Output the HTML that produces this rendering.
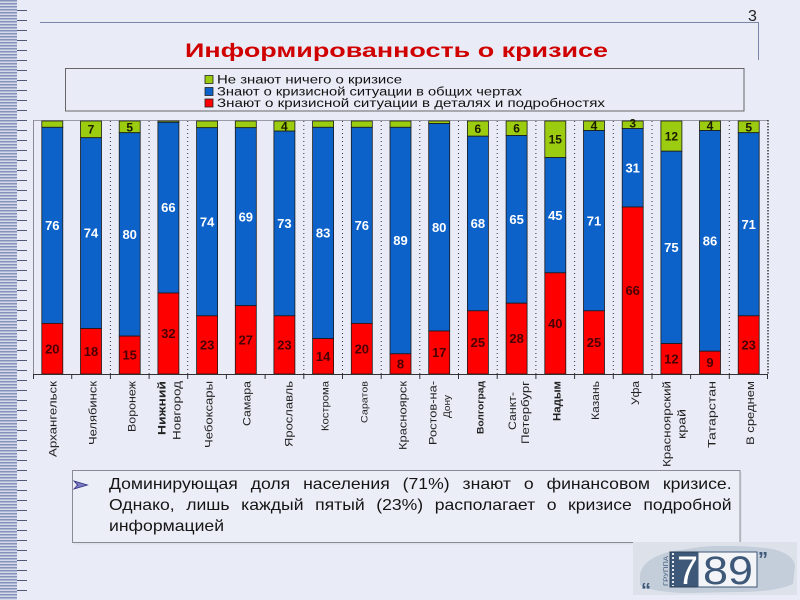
<!DOCTYPE html>
<html>
<head>
<meta charset="utf-8">
<style>
  html,body{margin:0;padding:0;}
  body{width:800px;height:600px;overflow:hidden;background:#e9ecf6;position:relative;font-family:"Liberation Sans","Noto Sans CJK SC",sans-serif;}
  .strip{position:absolute;left:0;top:0;width:17px;height:600px;
    background:repeating-linear-gradient(to bottom,#8593bb 0px,#8593bb 1.5px,#d3d9ea 1.5px,#d3d9ea 3px);}
  svg{position:absolute;left:0;top:0;}
  .ln{position:absolute;left:109px;width:566px;font-size:16px;line-height:20px;color:#151515;white-space:nowrap;transform:scaleX(1.1);transform-origin:0 0;}
  .j{text-align:justify;text-align-last:justify;white-space:normal;}
</style>
</head>
<body>
<div class="strip"></div>
<svg width="800" height="600" viewBox="0 0 800 600" xmlns="http://www.w3.org/2000/svg" font-family="Liberation Sans, sans-serif">
  <!-- left ticks -->
  <g stroke="#4f5a7a" stroke-width="1">
    <line x1="17" y1="10.5" x2="27" y2="10.5"/><line x1="17" y1="20.5" x2="27" y2="20.5"/><line x1="17" y1="30.5" x2="27" y2="30.5"/><line x1="17" y1="40.5" x2="27" y2="40.5"/><line x1="17" y1="50.5" x2="27" y2="50.5"/><line x1="17" y1="60.5" x2="27" y2="60.5"/><line x1="17" y1="70.5" x2="27" y2="70.5"/><line x1="17" y1="80.5" x2="27" y2="80.5"/><line x1="17" y1="90.5" x2="27" y2="90.5"/><line x1="17" y1="100.5" x2="27" y2="100.5"/>
    <line x1="17" y1="110.5" x2="27" y2="110.5"/><line x1="17" y1="120.5" x2="27" y2="120.5"/><line x1="17" y1="130.5" x2="27" y2="130.5"/><line x1="17" y1="140.5" x2="27" y2="140.5"/><line x1="17" y1="150.5" x2="27" y2="150.5"/><line x1="17" y1="160.5" x2="27" y2="160.5"/><line x1="17" y1="170.5" x2="27" y2="170.5"/><line x1="17" y1="180.5" x2="27" y2="180.5"/><line x1="17" y1="190.5" x2="27" y2="190.5"/><line x1="17" y1="200.5" x2="27" y2="200.5"/>
    <line x1="17" y1="210.5" x2="27" y2="210.5"/><line x1="17" y1="220.5" x2="27" y2="220.5"/><line x1="17" y1="230.5" x2="27" y2="230.5"/><line x1="17" y1="240.5" x2="27" y2="240.5"/><line x1="17" y1="250.5" x2="27" y2="250.5"/><line x1="17" y1="260.5" x2="27" y2="260.5"/><line x1="17" y1="270.5" x2="27" y2="270.5"/><line x1="17" y1="280.5" x2="27" y2="280.5"/><line x1="17" y1="290.5" x2="27" y2="290.5"/><line x1="17" y1="300.5" x2="27" y2="300.5"/>
    <line x1="17" y1="310.5" x2="27" y2="310.5"/><line x1="17" y1="320.5" x2="27" y2="320.5"/><line x1="17" y1="330.5" x2="27" y2="330.5"/><line x1="17" y1="340.5" x2="27" y2="340.5"/><line x1="17" y1="350.5" x2="27" y2="350.5"/><line x1="17" y1="360.5" x2="27" y2="360.5"/><line x1="17" y1="370.5" x2="27" y2="370.5"/><line x1="17" y1="380.5" x2="27" y2="380.5"/><line x1="17" y1="390.5" x2="27" y2="390.5"/><line x1="17" y1="400.5" x2="27" y2="400.5"/>
    <line x1="17" y1="410.5" x2="27" y2="410.5"/><line x1="17" y1="420.5" x2="27" y2="420.5"/><line x1="17" y1="430.5" x2="27" y2="430.5"/><line x1="17" y1="440.5" x2="27" y2="440.5"/><line x1="17" y1="450.5" x2="27" y2="450.5"/><line x1="17" y1="460.5" x2="27" y2="460.5"/><line x1="17" y1="470.5" x2="27" y2="470.5"/><line x1="17" y1="480.5" x2="27" y2="480.5"/><line x1="17" y1="490.5" x2="27" y2="490.5"/><line x1="17" y1="500.5" x2="27" y2="500.5"/>
    <line x1="17" y1="510.5" x2="27" y2="510.5"/><line x1="17" y1="520.5" x2="27" y2="520.5"/><line x1="17" y1="530.5" x2="27" y2="530.5"/><line x1="17" y1="540.5" x2="27" y2="540.5"/><line x1="17" y1="550.5" x2="27" y2="550.5"/><line x1="17" y1="560.5" x2="27" y2="560.5"/><line x1="17" y1="570.5" x2="27" y2="570.5"/><line x1="17" y1="580.5" x2="27" y2="580.5"/><line x1="17" y1="590.5" x2="27" y2="590.5"/>
  </g>

  <!-- header line and page number -->
  <line x1="40" y1="22.5" x2="759" y2="22.5" stroke="#7b86a8" stroke-width="1"/>
  <line x1="758.5" y1="22" x2="758.5" y2="60" stroke="#7b86a8" stroke-width="1"/>
  <text x="748" y="21" font-size="16" fill="#222">3</text>

  <!-- title -->
  <text x="185" y="57" font-size="19.5" font-weight="bold" fill="#d00000" textLength="423" lengthAdjust="spacingAndGlyphs">Информированность о кризисе</text>

  <!-- legend -->
  <rect x="65.5" y="68.5" width="678.5" height="42.5" fill="none" stroke="#666" stroke-width="1"/>
  <rect x="205" y="75.5" width="8" height="8" fill="#9ccc10" stroke="#222" stroke-width="0.8"/>
  <rect x="205" y="87.5" width="8" height="8" fill="#0d62c9" stroke="#222" stroke-width="0.8"/>
  <rect x="205" y="99" width="8" height="8" fill="#ff0000" stroke="#222" stroke-width="0.8"/>
  <g font-size="11.5" fill="#111">
    <text x="217" y="83.5" textLength="185" lengthAdjust="spacingAndGlyphs">Не знают ничего о кризисе</text>
    <text x="217" y="95.5" textLength="305" lengthAdjust="spacingAndGlyphs">Знают о кризисной ситуации в общих чертах</text>
    <text x="217" y="107" textLength="388" lengthAdjust="spacingAndGlyphs">Знают о кризисной ситуации в деталях и подробностях</text>
  </g>

  <!-- plot frame -->
  <line x1="33" y1="120.5" x2="768" y2="120.5" stroke="#9a9aa8" stroke-width="1"/>
  <line x1="33.5" y1="120" x2="33.5" y2="374" stroke="#8a8a98" stroke-width="1"/>
  <g stroke="#333" stroke-width="1" stroke-dasharray="1 3">
    <line x1="110.4" y1="121" x2="110.4" y2="374"/>
    <line x1="149.1" y1="121" x2="149.1" y2="374"/>
    <line x1="187.7" y1="121" x2="187.7" y2="374"/>
    <line x1="303.8" y1="121" x2="303.8" y2="374"/>
    <line x1="342.5" y1="121" x2="342.5" y2="374"/>
    <line x1="381.2" y1="121" x2="381.2" y2="374"/>
    <line x1="419.8" y1="121" x2="419.8" y2="374"/>
    <line x1="458.5" y1="121" x2="458.5" y2="374"/>
    <line x1="497.2" y1="121" x2="497.2" y2="374"/>
    <line x1="535.9" y1="121" x2="535.9" y2="374"/>
    <line x1="574.6" y1="121" x2="574.6" y2="374"/>
    <line x1="613.3" y1="121" x2="613.3" y2="374"/>
    <line x1="652.0" y1="121" x2="652.0" y2="374"/>
    <line x1="729.3" y1="121" x2="729.3" y2="374"/>
  </g>
  <line x1="768" y1="120" x2="768" y2="374" stroke="#111" stroke-width="1.2" stroke-dasharray="1.5 1.5"/>

  <!-- bars -->
  <g stroke="#1a1a1a" stroke-width="0.8">
    <rect x="41.8" y="121" width="21" height="6.3" fill="#9ccc10"/>
    <rect x="41.8" y="127.3" width="21" height="196.1" fill="#0d62c9"/>
    <rect x="41.8" y="323.4" width="21" height="50.6" fill="#ff0000"/>
    <rect x="80.5" y="121" width="21" height="16.7" fill="#9ccc10"/>
    <rect x="80.5" y="137.7" width="21" height="190.8" fill="#0d62c9"/>
    <rect x="80.5" y="328.5" width="21" height="45.5" fill="#ff0000"/>
    <rect x="119.2" y="121" width="21" height="11.7" fill="#9ccc10"/>
    <rect x="119.2" y="132.7" width="21" height="203.4" fill="#0d62c9"/>
    <rect x="119.2" y="336.1" width="21" height="37.9" fill="#ff0000"/>
    <rect x="157.9" y="121" width="21" height="1.3" fill="#9ccc10"/>
    <rect x="157.9" y="122.3" width="21" height="170.7" fill="#0d62c9"/>
    <rect x="157.9" y="293" width="21" height="81" fill="#ff0000"/>
    <rect x="196.6" y="121" width="21" height="6.7" fill="#9ccc10"/>
    <rect x="196.6" y="127.7" width="21" height="188.1" fill="#0d62c9"/>
    <rect x="196.6" y="315.8" width="21" height="58.2" fill="#ff0000"/>
    <rect x="235.3" y="121" width="21" height="6.7" fill="#9ccc10"/>
    <rect x="235.3" y="127.7" width="21" height="178" fill="#0d62c9"/>
    <rect x="235.3" y="305.7" width="21" height="68.3" fill="#ff0000"/>
    <rect x="273.9" y="121" width="21" height="10.1" fill="#9ccc10"/>
    <rect x="273.9" y="131.1" width="21" height="184.7" fill="#0d62c9"/>
    <rect x="273.9" y="315.8" width="21" height="58.2" fill="#ff0000"/>
    <rect x="312.6" y="121" width="21" height="6.3" fill="#9ccc10"/>
    <rect x="312.6" y="127.3" width="21" height="211.3" fill="#0d62c9"/>
    <rect x="312.6" y="338.6" width="21" height="35.4" fill="#ff0000"/>
    <rect x="351.3" y="121" width="21" height="6.3" fill="#9ccc10"/>
    <rect x="351.3" y="127.3" width="21" height="196.1" fill="#0d62c9"/>
    <rect x="351.3" y="323.4" width="21" height="50.6" fill="#ff0000"/>
    <rect x="390" y="121" width="21" height="6.3" fill="#9ccc10"/>
    <rect x="390" y="127.3" width="21" height="226.5" fill="#0d62c9"/>
    <rect x="390" y="353.8" width="21" height="20.2" fill="#ff0000"/>
    <rect x="428.7" y="121" width="21" height="2.5" fill="#9ccc10"/>
    <rect x="428.7" y="123.5" width="21" height="207.5" fill="#0d62c9"/>
    <rect x="428.7" y="331" width="21" height="43" fill="#ff0000"/>
    <rect x="467.4" y="121" width="21" height="15.2" fill="#9ccc10"/>
    <rect x="467.4" y="136.2" width="21" height="174.6" fill="#0d62c9"/>
    <rect x="467.4" y="310.8" width="21" height="63.2" fill="#ff0000"/>
    <rect x="506.1" y="121" width="21" height="14.5" fill="#9ccc10"/>
    <rect x="506.1" y="135.5" width="21" height="167.7" fill="#0d62c9"/>
    <rect x="506.1" y="303.2" width="21" height="70.8" fill="#ff0000"/>
    <rect x="544.8" y="121" width="21" height="36.5" fill="#9ccc10"/>
    <rect x="544.8" y="157.5" width="21" height="115.3" fill="#0d62c9"/>
    <rect x="544.8" y="272.8" width="21" height="101.2" fill="#ff0000"/>
    <rect x="583.5" y="121" width="21" height="9.5" fill="#9ccc10"/>
    <rect x="583.5" y="130.5" width="21" height="180.3" fill="#0d62c9"/>
    <rect x="583.5" y="310.8" width="21" height="63.2" fill="#ff0000"/>
    <rect x="622.2" y="121" width="21" height="7.5" fill="#9ccc10"/>
    <rect x="622.2" y="128.5" width="21" height="78.5" fill="#0d62c9"/>
    <rect x="622.2" y="207" width="21" height="167" fill="#ff0000"/>
    <rect x="660.9" y="121" width="21" height="30.2" fill="#9ccc10"/>
    <rect x="660.9" y="151.2" width="21" height="192.4" fill="#0d62c9"/>
    <rect x="660.9" y="343.6" width="21" height="30.4" fill="#ff0000"/>
    <rect x="699.5" y="121" width="21" height="9.5" fill="#9ccc10"/>
    <rect x="699.5" y="130.5" width="21" height="220.7" fill="#0d62c9"/>
    <rect x="699.5" y="351.2" width="21" height="22.8" fill="#ff0000"/>
    <rect x="738.2" y="121" width="21" height="11.7" fill="#9ccc10"/>
    <rect x="738.2" y="132.7" width="21" height="183.1" fill="#0d62c9"/>
    <rect x="738.2" y="315.8" width="21" height="58.2" fill="#ff0000"/>
  </g>

  <!-- bottom axis -->
  <line x1="33" y1="374.5" x2="768" y2="374.5" stroke="#333" stroke-width="1"/>
  <g stroke="#333" stroke-width="1">
    <line x1="33.5" y1="374" x2="33.5" y2="379"/><line x1="71.7" y1="374" x2="71.7" y2="379"/><line x1="110.4" y1="374" x2="110.4" y2="379"/><line x1="149.1" y1="374" x2="149.1" y2="379"/><line x1="187.7" y1="374" x2="187.7" y2="379"/><line x1="226.4" y1="374" x2="226.4" y2="379"/><line x1="265.1" y1="374" x2="265.1" y2="379"/><line x1="303.8" y1="374" x2="303.8" y2="379"/><line x1="342.5" y1="374" x2="342.5" y2="379"/><line x1="381.2" y1="374" x2="381.2" y2="379"/>
    <line x1="419.8" y1="374" x2="419.8" y2="379"/><line x1="458.5" y1="374" x2="458.5" y2="379"/><line x1="497.2" y1="374" x2="497.2" y2="379"/><line x1="535.9" y1="374" x2="535.9" y2="379"/><line x1="574.6" y1="374" x2="574.6" y2="379"/><line x1="613.3" y1="374" x2="613.3" y2="379"/><line x1="652.0" y1="374" x2="652.0" y2="379"/><line x1="690.6" y1="374" x2="690.6" y2="379"/><line x1="729.3" y1="374" x2="729.3" y2="379"/><line x1="767.5" y1="374" x2="767.5" y2="379"/>
  </g>

  <!-- value labels -->
  <g font-size="13" font-weight="bold" text-anchor="middle">
    <g fill="#ffffff">
      <text x="52.3" y="230">76</text>
      <text x="91" y="237.7">74</text>
      <text x="129.7" y="239">80</text>
      <text x="168.4" y="212.2">66</text>
      <text x="207.1" y="226.3">74</text>
      <text x="245.8" y="221.3">69</text>
      <text x="284.4" y="228">73</text>
      <text x="323.1" y="237.6">83</text>
      <text x="361.8" y="230">76</text>
      <text x="400.5" y="245.1">89</text>
      <text x="439.2" y="231.9">80</text>
      <text x="477.9" y="228.1">68</text>
      <text x="516.6" y="224">65</text>
      <text x="555.3" y="219.8">45</text>
      <text x="594" y="225.3">71</text>
      <text x="632.7" y="172.4">31</text>
      <text x="671.4" y="252">75</text>
      <text x="710" y="245.4">86</text>
      <text x="748.7" y="228.9">71</text>
    </g>
    <g fill="#4a0000">
      <text x="52.3" y="353.3">20</text>
      <text x="91" y="355.9">18</text>
      <text x="129.7" y="359.6">15</text>
      <text x="168.4" y="338.1">32</text>
      <text x="207.1" y="349.5">23</text>
      <text x="245.8" y="344.5">27</text>
      <text x="284.4" y="349.5">23</text>
      <text x="323.1" y="360.9">14</text>
      <text x="361.8" y="353.3">20</text>
      <text x="400.5" y="368.5">8</text>
      <text x="439.2" y="357.1">17</text>
      <text x="477.9" y="347">25</text>
      <text x="516.6" y="343.2">28</text>
      <text x="555.3" y="328">40</text>
      <text x="594" y="347">25</text>
      <text x="632.7" y="295.1">66</text>
      <text x="671.4" y="363.4">12</text>
      <text x="710" y="367.2">9</text>
      <text x="748.7" y="349.5">23</text>
    </g>
    <g fill="#1a1a00" font-size="12">
      <text x="91" y="133.6">7</text>
      <text x="129.7" y="131.3">5</text>
      <text x="284.4" y="130.4">4</text>
      <text x="477.9" y="133">6</text>
      <text x="516.6" y="132.6">6</text>
      <text x="555.3" y="143.6">15</text>
      <text x="594" y="130.1">4</text>
      <text x="632.7" y="127.4">3</text>
      <text x="671.4" y="140.4">12</text>
      <text x="710" y="130.1">4</text>
      <text x="748.7" y="131.3">5</text>
    </g>
  </g>

  <!-- category labels -->
  <g font-size="11" fill="#222">
    <text transform="translate(56.3,457) rotate(-90)" textLength="76" lengthAdjust="spacingAndGlyphs">Архангельск</text>
    <text transform="translate(96.7,445) rotate(-90)" textLength="64" lengthAdjust="spacingAndGlyphs">Челябинск</text>
    <text transform="translate(135.7,432) rotate(-90)" textLength="51" lengthAdjust="spacingAndGlyphs">Воронеж</text>
    <text transform="translate(165.7,435) rotate(-90)" textLength="54" lengthAdjust="spacingAndGlyphs" font-weight="bold">Нижний</text>
    <text transform="translate(180.7,440) rotate(-90)" textLength="59" lengthAdjust="spacingAndGlyphs">Новгород</text>
    <text transform="translate(212.3,448) rotate(-90)" textLength="67" lengthAdjust="spacingAndGlyphs">Чебоксары</text>
    <text transform="translate(250.7,426) rotate(-90)" textLength="45" lengthAdjust="spacingAndGlyphs">Самара</text>
    <text transform="translate(292.3,447) rotate(-90)" textLength="66" lengthAdjust="spacingAndGlyphs">Ярославль</text>
    <text transform="translate(328.5,431) rotate(-90)" textLength="50" lengthAdjust="spacingAndGlyphs" font-size="10">Кострома</text>
    <text transform="translate(367.5,423) rotate(-90)" textLength="42" lengthAdjust="spacingAndGlyphs" font-size="9.5">Саратов</text>
    <text transform="translate(406.7,450) rotate(-90)" textLength="69" lengthAdjust="spacingAndGlyphs">Красноярск</text>
    <text transform="translate(436.7,445) rotate(-90)" textLength="64" lengthAdjust="spacingAndGlyphs">Ростов-на-</text>
    <text transform="translate(450,418) rotate(-90)" textLength="23" lengthAdjust="spacingAndGlyphs" font-size="9">Дону</text>
    <text transform="translate(483.5,434) rotate(-90)" textLength="53" lengthAdjust="spacingAndGlyphs" font-size="9.5" font-weight="bold">Волгоград</text>
    <text transform="translate(516,430) rotate(-90)" textLength="38" lengthAdjust="spacingAndGlyphs">Санкт-</text>
    <text transform="translate(529,444) rotate(-90)" textLength="63" lengthAdjust="spacingAndGlyphs">Петербург</text>
    <text transform="translate(560.7,421) rotate(-90)" textLength="40" lengthAdjust="spacingAndGlyphs" font-weight="bold">Надым</text>
    <text transform="translate(599,420) rotate(-90)" textLength="39" lengthAdjust="spacingAndGlyphs">Казань</text>
    <text transform="translate(639,405) rotate(-90)" textLength="24" lengthAdjust="spacingAndGlyphs">Уфа</text>
    <text transform="translate(670.7,467) rotate(-90)" textLength="86" lengthAdjust="spacingAndGlyphs">Красноярский</text>
    <text transform="translate(685.7,439) rotate(-90)" textLength="30" lengthAdjust="spacingAndGlyphs">край</text>
    <text transform="translate(715.7,448) rotate(-90)" textLength="67" lengthAdjust="spacingAndGlyphs">Татарстан</text>
    <text transform="translate(754,445) rotate(-90)" textLength="64" lengthAdjust="spacingAndGlyphs">В среднем</text>
  </g>

  <!-- bottom text box -->
  <rect x="74" y="472" width="668" height="72.5" fill="#d6dae6" opacity="0.6"/>
  <rect x="72.5" y="470.5" width="667.5" height="72" fill="#eceef7" stroke="#8a8a96" stroke-width="1"/>
  <polygon points="74,481 87.5,485 74,489 77.5,485" fill="#7a7ac0" stroke="#2e2e80" stroke-width="0.8"/>

  <!-- logo -->
  <rect x="633" y="542" width="164" height="53" fill="#dde2ea"/>
  <path d="M640,575 C642,562 655,556 668,552 L700,547 C720,545 745,546 765,548 C782,550 794,556 795,566 L793,584 C780,590 760,592 735,592 L690,593 C668,593 648,590 640,585 Z" fill="#c4cdda"/>
  <rect x="670" y="552" width="28" height="35" fill="#3d5878" stroke="#2a3f58" stroke-width="1"/>
  <line x1="673" y1="553" x2="673" y2="586" stroke="#e8ecf2" stroke-width="2" stroke-dasharray="2 2"/>
  <text x="677" y="584" font-size="40" fill="#ffffff" textLength="21" lengthAdjust="spacingAndGlyphs">7</text>
  <rect x="698" y="552" width="59" height="35" fill="#f2f4f7" stroke="#3d5878" stroke-width="1"/>
  <text x="703" y="584" font-size="40" fill="#3d5878" textLength="50" lengthAdjust="spacingAndGlyphs">89</text>
  <text transform="translate(668,586) rotate(-90)" font-size="6.5" fill="#3d5878" textLength="30" lengthAdjust="spacingAndGlyphs">ГРУППА</text>
  <text x="641" y="597" font-size="20" font-weight="bold" fill="#3d5878">“</text>
  <text x="758" y="566" font-size="20" font-weight="bold" fill="#3d5878">”</text>
</svg>

<div class="ln j" style="top:475px;">Доминирующая доля населения (71%) знают о финансовом кризисе.</div>
<div class="ln j" style="top:496px;">Однако, лишь каждый пятый (23%) располагает о кризисе подробной</div>
<div class="ln" style="top:516.5px;">информацией</div>
</body>
</html>
